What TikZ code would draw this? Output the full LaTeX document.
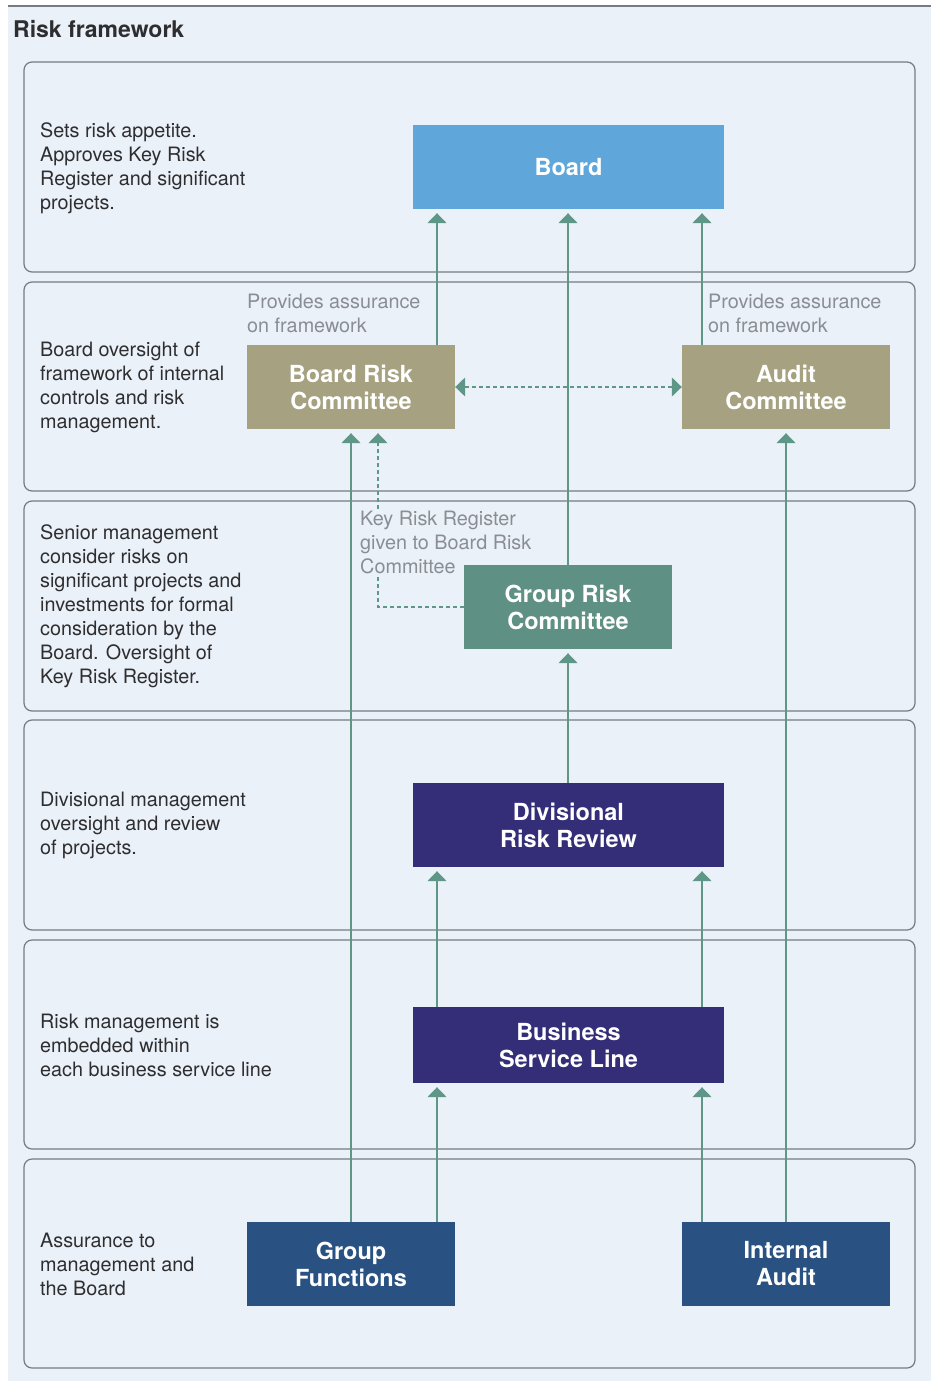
\documentclass[tikz,border=0pt]{standalone}
\usepackage{fontspec}
\setmainfont{TeX Gyre Heros}
\usepackage{tikz}
\usetikzlibrary{arrows.meta,positioning,calc}

\definecolor{bgblue}{HTML}{EBF1F9}
\definecolor{bandgray}{HTML}{767B83}
\definecolor{boardblue}{HTML}{5FA7DB}
\definecolor{olive}{HTML}{A6A281}
\definecolor{grcgreen}{HTML}{5E9083}
\definecolor{divpurple}{HTML}{332E77}
\definecolor{navy}{HTML}{295283}
\definecolor{arrgreen}{HTML}{5E9688}
\definecolor{txtdark}{HTML}{2E2E30}
\definecolor{txtgray}{HTML}{8A8D93}

\begin{document}
\begin{tikzpicture}[x=1pt, y=-1pt,
    band/.style={draw=bandgray, line width=1.2pt, rounded corners=8pt},
    box/.style={inner sep=0pt, minimum width=208pt, minimum height=84pt, text=white, align=center, font=\fontsize{23.5}{27}\selectfont\bfseries},
    widebox/.style={box, minimum width=311pt},
    desc/.style={anchor=west, align=left, inner sep=0pt, text=txtdark, font=\fontsize{19.8}{24}\selectfont},
    note/.style={anchor=north west, align=left, inner sep=2pt, text=txtgray, font=\fontsize{19.8}{24}\selectfont},
    arr/.style={draw=arrgreen, line width=1.5pt, -{Triangle[length=10pt,width=19pt]}, shorten >=4pt},
    dashline/.style={draw=arrgreen, dash pattern=on 4pt off 3pt, line width=1.3pt},
]
\useasboundingbox (0,0) rectangle (931,1381);
\fill[white] (0,0) rectangle (931,1381);
\fill[bgblue] (8,6) rectangle (931,1381);
\draw[bandgray, line width=1.2pt] (8,6) -- (931,6);

% Title
\node[anchor=west, inner sep=0pt, text=txtdark, font=\fontsize{23}{26}\selectfont\bfseries] (title) at (13,29) {Risk framework};

% Six levels
\draw[band] (24,62) rectangle (915,272);
\draw[band] (24,282) rectangle (915,491);
\draw[band] (24,501) rectangle (915,711);
\draw[band] (24,720) rectangle (915,930);
\draw[band] (24,940) rectangle (915,1149);
\draw[band] (24,1159) rectangle (915,1368);

% Level descriptions
\node[desc] (d1) at (40,168) {Sets risk appetite.\\Approves Key Risk\\Register and significant\\projects.};
\node[desc] (d2) at (40,387) {Board oversight of\\framework of internal\\controls and risk\\management.};
\node[desc] (d3) at (40,606) {Senior management\\consider risks on\\significant projects and\\investments for formal\\consideration by the\\Board. Oversight of\\Key Risk Register.};
\node[desc] (d4) at (40,825) {Divisional management\\oversight and review\\of projects.};
\node[desc] (d5) at (40,1045) {Risk management is\\embedded within\\each business service line};
\node[desc] (d6) at (40,1264) {Assurance to\\management and\\the Board};

% Boxes
\node[widebox, fill=boardblue] (board) at (568.5,167) {Board};
\node[box, fill=olive] (brc) at (351,387) {Board Risk\\Committee};
\node[box, fill=olive] (ac) at (786,387) {Audit\\Committee};
\node[box, fill=grcgreen] (grc) at (568,607) {Group Risk\\Committee};
\node[widebox, fill=divpurple] (drr) at (568.5,825) {Divisional\\Risk Review};
\node[widebox, fill=divpurple, minimum height=76pt] (bsl) at (568.5,1045) {Business\\Service Line};
\node[box, fill=navy] (gf) at (351,1264) {Group\\Functions};
\node[box, fill=navy] (ia) at (786,1264) {Internal\\Audit};

% Columns of the side arrows
\coordinate (cA) at (437,0);
\coordinate (cC) at (702,0);
\coordinate (cK) at (378,0);

% Notes
\node[note] (n1) at (245,292) {Provides assurance\\on framework};
\node[note] (n2) at (706,292) {Provides assurance\\on framework};
\node[note] (n3) at (358,509) {Key Risk Register\\given to Board Risk\\Committee};

% Connectors
\draw[arr] (brc.north -| cA) -- (board.south -| cA);
\draw[arr] (grc.north) -- (grc.north |- board.south);
\draw[arr] (ac.north -| cC) -- (board.south -| cC);
\draw[dashline] (grc.west) -| (n3.south -| cK);
\draw[arr, dashline] (n3.north -| cK) -- (brc.south -| cK);
\draw[dashline, {Triangle[length=10pt,width=19pt]}-{Triangle[length=10pt,width=19pt]}] (brc.east) -- (ac.west);
\draw[arr] (gf.north) -- (brc.south);
\draw[arr] (ia.north) -- (ac.south);
\draw[arr] (drr.north -| grc.south) -- (grc.south);
\draw[arr] (bsl.north -| cA) -- (drr.south -| cA);
\draw[arr] (bsl.north -| cC) -- (drr.south -| cC);
\draw[arr] (gf.north -| cA) -- (bsl.south -| cA);
\draw[arr] (ia.north -| cC) -- (bsl.south -| cC);
\end{tikzpicture}
\end{document}
